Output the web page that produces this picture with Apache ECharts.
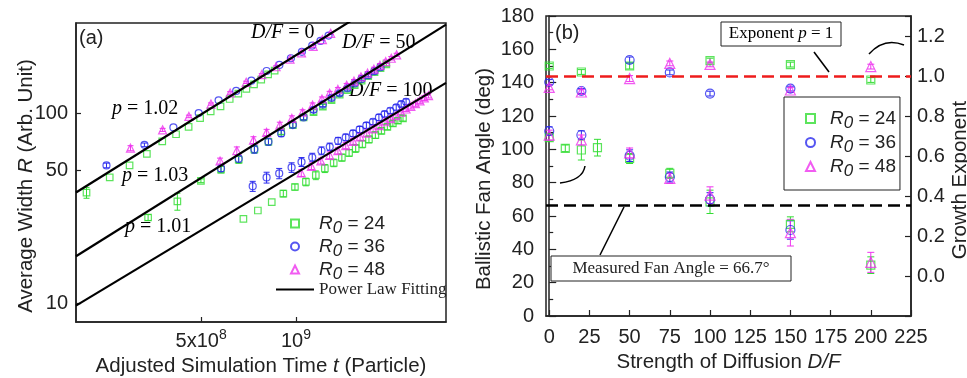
<!DOCTYPE html>
<html>
<head>
<meta charset="utf-8">
<script src="https://cdn.jsdelivr.net/npm/echarts@6/dist/echarts.min.js"></script>
<style>
  html, body { margin: 0; padding: 0; background: #fff; }
  #chart { width: 967px; height: 378px; }
</style>
</head>
<body>
<div id="chart"></div>
<script>
// ---- panel (a): [t, R, err] per group ----
const g0 = [[2.16e8, 38.2, 2.5], [2.56e8, 46.0, 0], [2.96e8, 53.1, 0], [3.36e8, 61.1, 0], [3.76e8, 71.0, 0],
  [4.16e8, 77.4, 0], [4.56e8, 84.7, 0], [4.96e8, 94.1, 0], [5.36e8, 102, 0], [5.76e8, 108.4, 0],
  [6.16e8, 118.5, 0], [6.56e8, 126.5, 0], [6.96e8, 133.8, 0], [7.36e8, 141.5, 0], [7.76e8, 149.8, 0],
  [8.16e8, 159.8, 0], [8.56e8, 167, 0]];
const g50 = [[3.39e8, 28.3, 1], [4.20e8, 34.4, 3.5], [4.99e8, 44.1, 1], [5.78e8, 50.5, 2], [6.58e8, 57.0, 2.5],
  [7.38e8, 64.4, 2.5], [8.18e8, 70.7, 2.5], [8.98e8, 79.8, 2.5], [9.78e8, 86.5, 2.5], [1.058e9, 94.9, 2.5],
  [1.138e9, 101, 3], [1.218e9, 108, 3], [1.298e9, 117, 3], [1.378e9, 125, 3], [1.458e9, 132, 3],
  [1.538e9, 140, 3], [1.618e9, 148, 3], [1.698e9, 156, 4], [1.778e9, 164, 4], [1.858e9, 172, 4], [1.938e9, 180, 4]];
const g100 = [[6.81e8, 27.8, 0], [7.57e8, 30.8, 0], [8.38e8, 34.1, 0], [9.12e8, 37.8, 1.5], [9.93e8, 40.9, 1.5],
  [1.076e9, 43.5, 2], [1.157e9, 47.2, 2.5], [1.236e9, 51.2, 2.5], [1.319e9, 54.8, 2.5], [1.40e9, 58.4, 2.5],
  [1.476e9, 61.8, 2.5], [1.549e9, 65.2, 3], [1.626e9, 68.7, 3], [1.707e9, 72.7, 3], [1.789e9, 76.6, 3],
  [1.869e9, 80.7, 3], [1.953e9, 84.7, 3], [2.034e9, 88.3, 3], [2.11e9, 91.1, 3], [2.19e9, 93.8, 3]];

const b0 = [[2.50e8, 53.1, 1.5], [3.30e8, 68.1, 1.5], [4.08e8, 84.1, 0], [4.91e8, 100, 0], [5.68e8, 116.6, 0],
  [6.46e8, 130.6, 0], [7.22e8, 147.9, 0], [8.07e8, 166.3, 0], [8.86e8, 179, 0], [9.64e8, 194, 0],
  [1.045e9, 209.6, 0], [1.127e9, 226, 0], [1.197e9, 239, 0], [1.27e9, 255, 0]];
const b50 = [[5.78e8, 51.2, 2], [6.58e8, 57.5, 2.5], [7.38e8, 64.5, 3], [8.18e8, 70.7, 3], [8.98e8, 78.2, 3],
  [9.78e8, 86.5, 3], [1.058e9, 94.9, 3], [1.138e9, 104, 3], [1.218e9, 111, 3], [1.298e9, 120, 3],
  [1.378e9, 127, 3], [1.458e9, 135, 3], [1.538e9, 143, 3], [1.618e9, 151, 3], [1.698e9, 158, 3],
  [1.778e9, 166, 4], [1.858e9, 174, 4]];
const b100 = [[7.29e8, 41.3, 2.5], [8.07e8, 45.9, 3], [8.85e8, 48.2, 3], [9.69e8, 51.8, 3], [1.042e9, 55.4, 3],
  [1.127e9, 58.5, 3], [1.206e9, 63.4, 3], [1.281e9, 66.5, 3], [1.362e9, 71.5, 3], [1.44e9, 74.5, 3],
  [1.519e9, 78.2, 3], [1.595e9, 82.0, 3], [1.675e9, 86.1, 3], [1.758e9, 90.0, 3], [1.836e9, 94.9, 3.5],
  [1.914e9, 98.8, 3.5], [1.995e9, 102.8, 3.5], [2.084e9, 107.1, 3.5], [2.161e9, 111.5, 4], [2.24e9, 114.6, 4]];

const m0 = [[2.98e8, 65.4, 2], [3.77e8, 81.6, 1.5], [4.57e8, 96, 1.5], [5.37e8, 111.5, 1.5], [6.18e8, 127.4, 2],
  [6.95e8, 145, 2], [7.79e8, 159, 2], [8.65e8, 175, 2], [9.58e8, 192, 2], [1.042e9, 207, 2],
  [1.135e9, 224, 3], [1.214e9, 243, 3], [1.29e9, 262, 3]];
const m50 = [[5.74e8, 56, 2], [6.49e8, 63.4, 3], [7.33e8, 72.1, 3], [8.07e8, 79.1, 3], [8.89e8, 86.5, 3],
  [9.71e8, 93.7, 3], [1.05e9, 101, 3], [1.13e9, 110, 3], [1.21e9, 118.5, 3], [1.28e9, 127, 3],
  [1.36e9, 133, 3], [1.45e9, 140, 3], [1.53e9, 147, 3], [1.61e9, 155, 3], [1.69e9, 162, 3],
  [1.77e9, 170, 4], [1.85e9, 178, 4], [1.93e9, 186, 4], [2.01e9, 194, 4], [2.09e9, 202, 4]];
const m100 = [[1.04e9, 48.5, 2], [1.12e9, 52.5, 2], [1.20e9, 56, 2], [1.28e9, 60, 2.5], [1.36e9, 63.5, 2.5],
  [1.44e9, 67.5, 2.5], [1.52e9, 71, 2.5], [1.60e9, 75, 3], [1.68e9, 78.5, 3], [1.76e9, 82.5, 3],
  [1.84e9, 86, 3], [1.92e9, 90, 3], [2.00e9, 93.5, 3], [2.08e9, 97, 3], [2.16e9, 101, 3],
  [2.24e9, 105, 3], [2.32e9, 108.5, 3.5], [2.40e9, 112, 3.5], [2.48e9, 116, 3.5], [2.56e9, 120, 3.5], [2.64e9, 123.5, 3.5]];

// power-law fitting lines, end points
const fit0 = [[2.0e8, 38.3], [3.0e9, 624]];
const fit50 = [[2.0e8, 17.7], [3.0e9, 291]];
const fit100 = [[2.0e8, 9.75], [3.0e9, 144]];

const xTicksA = [5e8, 1e9];
const yTicksA = [10, 50, 100];

// ---- panel (b) ----
const dfB = [0, 20, 50, 75, 100, 150, 200];
const exp24 = [1.05, 1.02, 1.05, null, 1.077, 1.057, 0.98];
const exp36 = [0.97, 0.925, 1.08, 1.018, 0.912, 0.937, null];
const exp48 = [0.943, 0.92, 0.987, 1.063, 1.058, 0.93, 1.047];
const expErr = [0.012, 0.012, 0.015, 0.012, 0.012, 0.012, 0.012];

const dfFan24 = [0, 10, 20, 30, 50, 75, 100, 150, 200];
const fan24 = [107, 100.6, 99.6, 101, 94.5, 85.6, 68.5, 55, 30.5];
const fanErr24 = [2, 2, 6, 5, 3, 3, 7, 4.5, 5];
const dfFan36 = [0, 20, 50, 75, 100, 150];
const fan36 = [111, 108.6, 96.2, 83.4, 70, 51.6];
const fanErr36 = [2.5, 2.5, 3.5, 3, 4, 5.5];
const dfFan48 = [0, 20, 50, 75, 100, 150, 200];
const fan48 = [108.5, 105.6, 97.8, 82.6, 72.5, 50, 32.2];
const fanErr48 = [3, 3, 3, 3, 5, 8, 6];

const exponentLine = 1.0;
const measuredFanAngle = 66.7;
const xTicksB = [0, 25, 50, 75, 100, 125, 150, 175, 200, 225];

const SANS = 'Liberation Sans, Arial, sans-serif';
const SERIF = 'Liberation Serif, Times New Roman, serif';
const INK = '#222';
const C24 = '#33dd33', C36 = '#2a2aee', C48 = '#ee33ee';

function triples(xs, ys, es) {
  const out = [];
  xs.forEach((x, i) => { if (ys[i] != null) out.push([x, ys[i], es[i]]); });
  return out;
}

function errBars(color, w) {
  return function (params, api) {
    const e = api.value(2);
    if (!e) return null;
    const x = api.value(0), y = api.value(1);
    const p1 = api.coord([x, y + e]), p2 = api.coord([x, y - e]);
    const st = { stroke: color, lineWidth: 1 };
    return {
      type: 'group', children: [
        { type: 'line', shape: { x1: p1[0], y1: p1[1], x2: p2[0], y2: p2[1] }, style: st },
        { type: 'line', shape: { x1: p1[0] - w, y1: p1[1], x2: p1[0] + w, y2: p1[1] }, style: st },
        { type: 'line', shape: { x1: p2[0] - w, y1: p2[1], x2: p2[0] + w, y2: p2[1] }, style: st }
      ]
    };
  };
}

function scatter(name, data, color, symbol, size, xi, yi) {
  return {
    name: name, type: 'scatter', xAxisIndex: xi, yAxisIndex: yi, data: data,
    symbol: symbol, symbolSize: size,
    itemStyle: { color: 'rgba(255,255,255,0)', borderColor: color, borderWidth: 1.2 },
    z: 3
  };
}

function errSeries(data, color, xi, yi, w) {
  return {
    type: 'custom', xAxisIndex: xi, yAxisIndex: yi, data: data,
    encode: { x: 0, y: 1 }, renderItem: errBars(color, w), silent: true, z: 2
  };
}

function fitSeries(data) {
  return {
    name: 'fit', type: 'line', xAxisIndex: 0, yAxisIndex: 0, data: data,
    symbol: 'none', itemStyle: { color: 'rgba(0,0,0,0)', borderWidth: 0 },
    lineStyle: { color: '#000', width: 2.2 }, z: 4, silent: true
  };
}

function legendRich(lead) {
  const sm = { fontFamily: SANS, fontSize: 19, color: INK, lineHeight: 22 };
  return {
    i: Object.assign({}, sm, { fontStyle: 'italic', padding: [0, 0, 0, lead] }),
    s: Object.assign({}, sm, { fontStyle: 'italic', fontSize: 17, lineHeight: 12, padding: [10, 0, 0, 0] }),
    n: sm,
    f: { fontFamily: SERIF, fontSize: 17, color: INK, lineHeight: 22 }
  };
}
const legendNames = {
  R24: '{i|R}{s|0}{n| = 24}', R36: '{i|R}{s|0}{n| = 36}', R48: '{i|R}{s|0}{n| = 48}',
  fit: '{f|Power Law Fitting}'
};
const legendItems = [{ name: 'R24', icon: 'rect' }, { name: 'R36', icon: 'circle' }, { name: 'R48', icon: 'triangle' }];

function annRich(size) {
  const fs = size || 20;
  return {
    i: { fontFamily: SERIF, fontSize: fs, fontStyle: 'italic', color: INK },
    n: { fontFamily: SERIF, fontSize: fs, color: INK }
  };
}

const d24 = g0.concat(g50, g100), d36 = b0.concat(b50, b100), d48 = m0.concat(m50, m100);
const e24 = triples(dfB, exp24, expErr), e36 = triples(dfB, exp36, expErr), e48 = triples(dfB, exp48, expErr);
const f24 = triples(dfFan24, fan24, fanErr24), f36 = triples(dfFan36, fan36, fanErr36), f48 = triples(dfFan48, fan48, fanErr48);

const chart = echarts.init(document.getElementById('chart'));

const axisLineStyle = { lineStyle: { color: INK, width: 1.5 } };
const labelSans = { fontFamily: SANS, fontSize: 20, color: INK };
const nameRich = {
  n: { fontFamily: SANS, fontSize: 20.5, color: INK },
  i: { fontFamily: SANS, fontSize: 20.5, color: INK, fontStyle: 'italic' }
};

const option = {
  animation: false,
  backgroundColor: '#fff',
  grid: [
    { left: 76, top: 23, width: 370, height: 299, outerBoundsMode: 'none', show: true, borderColor: INK, borderWidth: 1.5 },
    { left: 546, top: 16, width: 365, height: 300, outerBoundsMode: 'none', show: true, borderColor: INK, borderWidth: 1.5 }
  ],
  xAxis: [
    {
      type: 'log', gridIndex: 0, min: 2.0e8, max: 3.0e9,
      axisLine: axisLineStyle,
      axisTick: { inside: true, length: 5, customValues: xTicksA, lineStyle: { color: INK, width: 1.2 } },
      axisLabel: {
        customValues: xTicksA, margin: 6,
        formatter: function (v) { return v < 7e8 ? '{b|5x10}{s|8}' : '{b|10}{s|9}'; },
        rich: { b: labelSans, s: { fontFamily: SANS, fontSize: 14, color: INK, padding: [0, 0, 12, 0] } }
      },
      splitLine: { show: false }, minorTick: { show: false },
      name: '{n|Adjusted Simulation Time }{i|t}{n| (Particle)}', nameLocation: 'middle', nameGap: 34,
      nameMoveOverlap: false,
      nameTextStyle: { rich: nameRich }
    },
    {
      type: 'value', gridIndex: 1, min: -2, max: 225,
      axisLine: axisLineStyle,
      axisTick: { inside: true, length: 6, customValues: xTicksB, lineStyle: { color: INK, width: 1.2 } },
      axisLabel: Object.assign({ customValues: xTicksB, margin: 11 }, labelSans),
      splitLine: { show: false },
      name: '{n|Strength of Diffusion }{i|D/F}', nameLocation: 'middle', nameGap: 35,
      nameTextStyle: { rich: nameRich }
    }
  ],
  yAxis: [
    {
      type: 'log', gridIndex: 0, min: 8, max: 297,
      axisLine: axisLineStyle,
      axisTick: { inside: true, length: 5, customValues: yTicksA, lineStyle: { color: INK, width: 1.2 } },
      axisLabel: Object.assign({ customValues: yTicksA, margin: 8 }, labelSans),
      splitLine: { show: false }, minorTick: { show: false },
      name: '{n|Average Width }{i|R}{n| (Arb. Unit)}', nameLocation: 'middle', nameGap: 39,
      nameMoveOverlap: false,
      nameTextStyle: { rich: nameRich, padding: [0, 27, 0, 0] }
    },
    {
      type: 'value', gridIndex: 1, min: 0, max: 180, interval: 20,
      axisLine: axisLineStyle,
      axisTick: { inside: true, length: 7, lineStyle: { color: INK, width: 1.2 } },
      minorTick: { show: true, splitNumber: 2, length: 4, lineStyle: { color: INK, width: 1.2 } },
      axisLabel: Object.assign({ margin: 12 }, labelSans),
      splitLine: { show: false },
      name: 'Ballistic Fan Angle (deg)', nameLocation: 'middle', nameGap: 51,
      nameTextStyle: { fontFamily: SANS, fontSize: 20.5, color: INK, padding: [0, 26, 0, 0] }
    },
    {
      type: 'value', gridIndex: 1, position: 'right', min: -0.2, max: 1.3, interval: 0.2,
      axisLine: axisLineStyle,
      axisTick: { inside: true, length: 6, lineStyle: { color: INK, width: 1.2 } },
      axisLabel: Object.assign({ margin: 6, formatter: function (v) { return (v < -0.1 || v > 1.25) ? '' : v.toFixed(1); } }, labelSans),
      splitLine: { show: false },
      name: 'Growth Exponent', nameLocation: 'middle', nameGap: 39,
      nameTextStyle: { fontFamily: SANS, fontSize: 20.5, color: INK, padding: [0, 28, 0, 0] }
    }
  ],
  legend: [
    {
      data: legendItems, orient: 'vertical', left: 290, top: 210,
      itemWidth: 8, itemHeight: 8, itemGap: -4, padding: 0,
      formatter: function (n) { return legendNames[n]; },
      textStyle: { rich: legendRich(15) }, selectedMode: false
    },
    {
      data: ['fit'], orient: 'vertical', left: 275, top: 281,
      itemWidth: 38, itemHeight: 8, padding: 0,
      formatter: function (n) { return legendNames[n]; },
      textStyle: { rich: legendRich(0) }, selectedMode: false
    },
    {
      data: legendItems, orient: 'vertical', left: 784, top: 97,
      itemWidth: 9, itemHeight: 9, itemGap: -3, padding: [8, 4, 10, 21],
      borderColor: INK, borderWidth: 1, backgroundColor: '#fff',
      formatter: function (n) { return legendNames[n]; },
      textStyle: { rich: legendRich(10) }, selectedMode: false
    }
  ],
  series: [
    fitSeries(fit0), fitSeries(fit50), fitSeries(fit100),
    errSeries(d24, C24, 0, 0, 3), errSeries(d36, C36, 0, 0, 3), errSeries(d48, C48, 0, 0, 3),
    scatter('R24', d24, C24, 'rect', 6.5, 0, 0),
    scatter('R36', d36, C36, 'circle', 7, 0, 0),
    scatter('R48', d48, C48, 'triangle', 8, 0, 0),

    errSeries(f24, C24, 1, 1, 3.5), errSeries(f36, C36, 1, 1, 3.5), errSeries(f48, C48, 1, 1, 3.5),
    errSeries(e24, C24, 1, 2, 3.5), errSeries(e36, C36, 1, 2, 3.5), errSeries(e48, C48, 1, 2, 3.5),
    Object.assign(scatter('R24', f24, C24, 'rect', 8, 1, 1), {
      markLine: {
        silent: true, symbol: 'none', label: { show: false },
        lineStyle: { color: '#000', type: [12, 6], width: 2.5 },
        data: [{ yAxis: measuredFanAngle }]
      }
    }),
    scatter('R36', f36, C36, 'circle', 9, 1, 1),
    scatter('R48', f48, C48, 'triangle', 10, 1, 1),
    Object.assign(scatter('R24', e24, C24, 'rect', 8, 1, 2), {
      markLine: {
        silent: true, symbol: 'none', label: { show: false },
        lineStyle: { color: '#ee1c1c', type: [12, 6], width: 2.5 },
        data: [{ yAxis: exponentLine }]
      }
    }),
    scatter('R36', e36, C36, 'circle', 9, 1, 2),
    scatter('R48', e48, C48, 'triangle', 10, 1, 2)
  ],
  graphic: [
    { type: 'text', left: 79, top: 28, style: { text: '(a)', font: '20px ' + SANS, fill: INK } },
    { type: 'text', left: 555, top: 23, style: { text: '(b)', font: '20px ' + SANS, fill: INK } },
    { type: 'text', x: 251, y: 33, style: { text: '{i|D/F}{n| = 0}', verticalAlign: 'middle', rich: annRich() } },
    { type: 'text', x: 342, y: 43, style: { text: '{i|D/F}{n| = 50}', verticalAlign: 'middle', rich: annRich() } },
    { type: 'text', x: 349, y: 91, style: { text: '{i|D/F}{n| = 100}', verticalAlign: 'middle', rich: annRich() } },
    { type: 'text', x: 112, y: 109, style: { text: '{i|p}{n| = 1.02}', verticalAlign: 'middle', rich: annRich() } },
    { type: 'text', x: 122, y: 176, style: { text: '{i|p}{n| = 1.03}', verticalAlign: 'middle', rich: annRich() } },
    { type: 'text', x: 125, y: 227, style: { text: '{i|p}{n| = 1.01}', verticalAlign: 'middle', rich: annRich() } },

    { type: 'rect', shape: { x: 721, y: 22, width: 120, height: 24 }, style: { fill: '#fff', stroke: INK, lineWidth: 1 }, z: 10 },
    { type: 'text', x: 781, y: 34, z: 11, style: { text: '{n|Exponent }{i|p}{n| = 1}', align: 'center', verticalAlign: 'middle', rich: annRich(17) } },
    { type: 'line', shape: { x1: 814, y1: 52, x2: 829, y2: 72 }, style: { stroke: '#000', lineWidth: 1.5 }, z: 10 },
    { type: 'bezierCurve', shape: { x1: 869, y1: 54, cpx1: 884, cpy1: 37, x2: 904, y2: 45 }, style: { stroke: '#000', lineWidth: 1.5, fill: 'none' }, z: 10 },
    { type: 'bezierCurve', shape: { x1: 560, y1: 183, cpx1: 583, cpy1: 180, x2: 585, y2: 166 }, style: { stroke: '#000', lineWidth: 1.5, fill: 'none' }, z: 10 },
    { type: 'rect', shape: { x: 551, y: 256, width: 240, height: 25 }, style: { fill: '#fff', stroke: INK, lineWidth: 1 }, z: 10 },
    { type: 'text', x: 671, y: 268.5, z: 11, style: { text: 'Measured Fan Angle = 66.7°', align: 'center', verticalAlign: 'middle', font: '17px ' + SERIF, fill: INK } },
    { type: 'line', shape: { x1: 600, y1: 255, x2: 624, y2: 207 }, style: { stroke: '#000', lineWidth: 1.5 }, z: 10 }
  ]
};

chart.setOption(option);
</script>
</body>
</html>
